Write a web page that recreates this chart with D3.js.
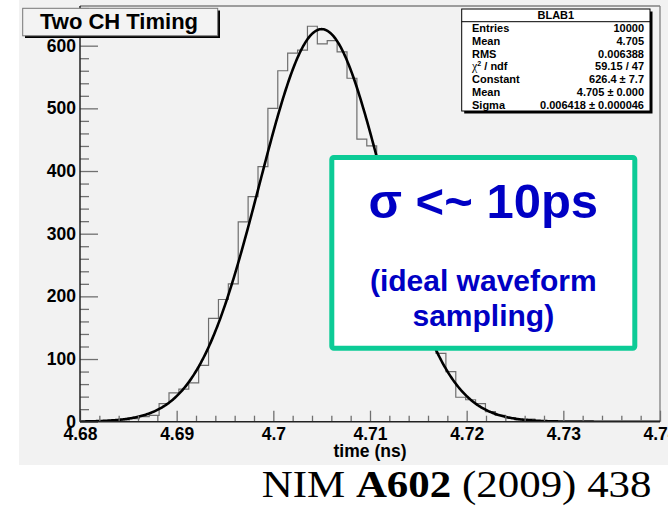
<!DOCTYPE html>
<html>
<head>
<meta charset="utf-8">
<script src="https://cdn.jsdelivr.net/npm/d3@7"></script>
<style>
  html, body { margin: 0; padding: 0; background: #ffffff; }
  svg { display: block; }
</style>
</head>
<body>
<script>
// ---------------- data ----------------
const binStart = 4.68;
const binWidth = 0.001023;
const binCounts = [
  0, 1, 1, 2, 3, 5, 8, 10, 29, 46, 52, 62, 90,
  165, 195, 220, 319, 359, 407, 500, 560, 588, 593, 631, 603, 608, 590, 548, 451,
  440, 405, 338, 280, 225, 178, 150,
  109, 80, 39, 35, 29, 16, 10, 6, 3, 4, 1, 1,
  0, 0, 0, 0, 0, 0, 0, 0, 0, 0, 0
];
const fitParams = [626.4, 4.705, 0.006418]; // Constant, Mean, Sigma
const xTickValues = [4.68, 4.69, 4.70, 4.71, 4.72, 4.73, 4.74];
const xTickLabels = ["4.68", "4.69", "4.7", "4.71", "4.72", "4.73", "4.74"];
const yTickValues = [0, 100, 200, 300, 400, 500, 600];
const yTickLabels = ["0", "100", "200", "300", "400", "500", "600"];
const statsTitle = "BLAB1";
const statsLabels = ["Entries", "Mean", "RMS", "chi2", "Constant", "Mean", "Sigma"];
const statsValues = ["10000", "4.705", "0.006388", "59.15 / 47", "626.4 \u00b1 7.7", "4.705 \u00b1 0.000", "0.006418 \u00b1 0.000046"];
const chartTitle = "Two CH Timing";
const xAxisTitle = "time (ns)";

// ---------------- layout ----------------
const W = 668, H = 508;
const plot = { left: 80, right: 660, top: 6, bottom: 421.7 };
const SANS = '"Liberation Sans", Arial, Helvetica, sans-serif';
const SERIF = '"Liberation Serif", "Times New Roman", serif';

const svg = d3.select("body").append("svg").attr("width", W).attr("height", H)
  .style("font-family", SANS);

svg.append("rect").attr("x", 0).attr("y", 0).attr("width", W).attr("height", H).attr("fill", "#ffffff");
svg.append("rect").attr("x", 19).attr("y", 0).attr("width", W - 19).attr("height", 465).attr("fill", "#f2f2f2");

const x = d3.scaleLinear().domain([4.68, 4.74]).range([plot.left, plot.right]);
const y = d3.scaleLinear().domain([0, (plot.bottom - plot.top) / 0.6267]).range([plot.bottom, plot.top]);

svg.append("defs").append("clipPath").attr("id", "plotclip")
  .append("rect").attr("x", plot.left).attr("y", plot.top)
  .attr("width", plot.right - plot.left).attr("height", plot.bottom - plot.top);

// frame top/right
svg.append("line").attr("x1", plot.left).attr("x2", plot.right).attr("y1", plot.top).attr("y2", plot.top)
  .attr("stroke", "#808080").attr("stroke-width", 1.3);
svg.append("line").attr("x1", plot.right).attr("x2", plot.right).attr("y1", plot.top).attr("y2", plot.bottom)
  .attr("stroke", "#808080").attr("stroke-width", 1.3);

// histogram
const histPts = binCounts.map((c, k) => [binStart + k * binWidth, c]);
histPts.push([binStart + binCounts.length * binWidth, binCounts[binCounts.length - 1]]);
const histLine = d3.line().x(d => x(d[0])).y(d => y(d[1])).curve(d3.curveStepAfter);
svg.append("path").attr("d", histLine(histPts)).attr("fill", "none")
  .attr("stroke", "#6e6e6e").attr("stroke-width", 1.2).attr("clip-path", "url(#plotclip)");

// fit curve (Gaussian with the fitted parameters shown in the stats box)
const [fc, fm, fs] = fitParams;
const fitPts = d3.range(0, 601).map(i => {
  const t = 4.68 + i * 0.0001;
  return [t, fc * Math.exp(-0.5 * Math.pow((t - fm) / fs, 2))];
});
svg.append("path").attr("d", d3.line().x(d => x(d[0])).y(d => y(d[1]))(fitPts))
  .attr("fill", "none").attr("stroke", "#000").attr("stroke-width", 2.6)
  .attr("clip-path", "url(#plotclip)");

// y axis
const yMinor = d3.range(0, 661, 20).filter(v => v % 100 !== 0);
const yAxisMinor = svg.append("g").attr("transform", `translate(${plot.left},0)`)
  .call(d3.axisLeft(y).tickValues(yMinor).tickSize(-9).tickFormat(""));
const yAxisMajor = svg.append("g").attr("transform", `translate(${plot.left},0)`)
  .call(d3.axisLeft(y).tickValues(yTickValues).tickSize(-18).tickPadding(4)
    .tickFormat((d, i) => yTickLabels[i]));
[yAxisMinor, yAxisMajor].forEach(g => {
  g.attr("font-family", null);
  g.select(".domain").remove();
  g.selectAll(".tick line").attr("stroke", "#707070").attr("stroke-width", 1.3);
});
yAxisMajor.selectAll(".tick text").style("font-family", SANS).attr("font-size", 17.5)
  .attr("font-weight", "bold").attr("fill", "#000");

// x axis
const xMinor = d3.range(0, 31).map(i => 4.68 + i * 0.002).filter((v, i) => i % 5 !== 0);
const xAxisMinor = svg.append("g").attr("transform", `translate(0,${plot.bottom})`)
  .call(d3.axisBottom(x).tickValues(xMinor).tickSize(-6).tickFormat(""));
const xAxisMajor = svg.append("g").attr("transform", `translate(0,${plot.bottom})`)
  .call(d3.axisBottom(x).tickValues(xTickValues).tickSize(-11).tickPadding(4)
    .tickFormat((d, i) => xTickLabels[i]));
[xAxisMinor, xAxisMajor].forEach(g => {
  g.attr("font-family", null);
  g.select(".domain").remove();
  g.selectAll(".tick line").attr("stroke", "#707070").attr("stroke-width", 1.3);
});
xAxisMajor.selectAll(".tick text").style("font-family", SANS).attr("font-size", 17.5)
  .attr("font-weight", "bold").attr("fill", "#000").attr("dy", null).attr("y", 18.3);

// axis lines
svg.append("line").attr("x1", plot.left).attr("x2", plot.left).attr("y1", plot.top).attr("y2", plot.bottom)
  .attr("stroke", "#222").attr("stroke-width", 1.5);
svg.append("line").attr("x1", plot.left).attr("x2", plot.right).attr("y1", plot.bottom).attr("y2", plot.bottom)
  .attr("stroke", "#222").attr("stroke-width", 1.5);

svg.append("text").attr("x", (plot.left + plot.right) / 2).attr("y", 457)
  .attr("text-anchor", "middle").attr("font-size", 17.5).attr("font-weight", "bold").text(xAxisTitle);

// title box
svg.append("rect").attr("x", 25).attr("y", 10.5).attr("width", 195).attr("height", 27.5).attr("fill", "#000");
svg.append("rect").attr("x", 22.7).attr("y", 8.3).attr("width", 195).attr("height", 27.5)
  .attr("fill", "#f3f3f3").attr("stroke", "#777").attr("stroke-width", 1);
svg.append("text").attr("x", 119).attr("y", 29.3).attr("text-anchor", "middle")
  .attr("font-size", 22).attr("font-weight", "bold").text(chartTitle);

// stats box
const sb = { x: 461.7, y: 9, w: 188.3, h: 102 };
svg.append("rect").attr("x", sb.x + 2.5).attr("y", sb.y + 2.5).attr("width", sb.w).attr("height", sb.h).attr("fill", "#000");
svg.append("rect").attr("x", sb.x).attr("y", sb.y).attr("width", sb.w).attr("height", sb.h)
  .attr("fill", "#ffffff").attr("stroke", "#000").attr("stroke-width", 1);
svg.append("line").attr("x1", sb.x).attr("x2", sb.x + sb.w).attr("y1", 21.7).attr("y2", 21.7)
  .attr("stroke", "#000").attr("stroke-width", 1);
svg.append("text").attr("x", sb.x + sb.w / 2).attr("y", 19).attr("text-anchor", "middle")
  .attr("font-size", 11).attr("font-weight", "bold").text(statsTitle);
statsLabels.forEach((lab, i) => {
  const by = 21.7 + 12.76 * (i + 0.5) + 4;
  const t = svg.append("text").attr("x", 472).attr("y", by).attr("font-size", 11).attr("font-weight", "bold");
  if (lab === "chi2") {
    t.append("tspan").style("font-family", SERIF).attr("font-weight", "normal").attr("font-size", 12).text("\u03c7");
    t.append("tspan").attr("font-size", 7).attr("dy", -4).text("2");
    t.append("tspan").attr("dy", 4).text(" / ndf");
  } else {
    t.text(lab);
  }
  svg.append("text").attr("x", 644).attr("y", by).attr("text-anchor", "end")
    .attr("font-size", 11).attr("font-weight", "bold").text(statsValues[i]);
});

// annotation box
svg.append("rect").attr("x", 331.8).attr("y", 157.5).attr("width", 303).attr("height", 190.7)
  .attr("rx", 2).attr("fill", "#ffffff").attr("stroke", "#0ccb96").attr("stroke-width", 5);
svg.append("text").attr("x", 483.3).attr("y", 218).attr("text-anchor", "middle")
  .attr("font-size", 49).attr("font-weight", "bold").attr("fill", "#0000c4").text("\u03c3 <~ 10ps");
svg.append("text").attr("x", 483.3).attr("y", 291).attr("text-anchor", "middle")
  .attr("font-size", 30).attr("font-weight", "bold").attr("fill", "#0000c4").text("(ideal waveform");
svg.append("text").attr("x", 483.3).attr("y", 326).attr("text-anchor", "middle")
  .attr("font-size", 30).attr("font-weight", "bold").attr("fill", "#0000c4").text("sampling)");

// citation
const cit = svg.append("text").attr("x", 261.7).attr("y", 497.3)
  .style("font-family", SERIF).attr("font-size", 37).attr("fill", "#000");
cit.append("tspan").text("NIM ");
cit.append("tspan").attr("font-weight", "bold").text("A602");
cit.append("tspan").text(" (2009) 438");
const len = cit.node().getComputedTextLength();
const sx = 390 / len;
cit.attr("transform", `translate(261.7,497.3) scale(${sx},1) translate(-261.7,-497.3)`);
</script>
</body>
</html>
